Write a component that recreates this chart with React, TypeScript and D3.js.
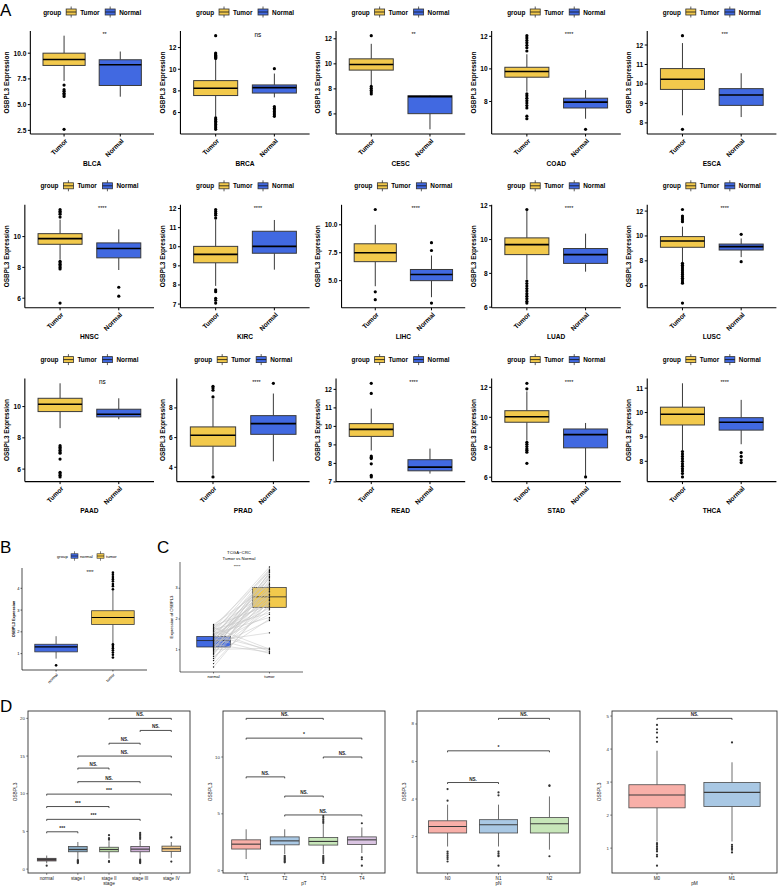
import React, { useEffect } from "react";
import * as d3 from "d3";

const FONT = "'Liberation Sans', Arial, Helvetica, sans-serif";
const YELLOW = "#F2C94C";
const BLUE = "#4169E1";

// ---------------- Panel A data ----------------
const cancers = ["BLCA", "BRCA", "CESC", "COAD", "ESCA", "HNSC", "KIRC", "LIHC", "LUAD", "LUSC", "PAAD", "PRAD", "READ", "STAD", "THCA"];
const groupsA = ["Tumor", "Normal"];
// [lowerWhisker, Q1, median, Q3, upperWhisker]
const tumorBox = [
  [7.3, 8.81, 9.39, 10.0, 11.7],
  [5.6, 7.57, 8.25, 8.95, 10.9],
  [8.3, 9.5, 9.95, 10.4, 11.6],
  [8.6, 9.49, 9.84, 10.1, 10.9],
  [8.39, 9.72, 10.24, 10.79, 12.1],
  [8.5, 9.5, 9.87, 10.19, 11.1],
  [7.95, 9.16, 9.6, 10.02, 11.4],
  [4.5, 6.7, 7.5, 8.3, 10.0],
  [7.65, 9.11, 9.7, 10.1, 11.7],
  [7.9, 9.09, 9.6, 9.95, 10.75],
  [8.62, 9.68, 10.15, 10.53, 11.49],
  [3.5, 5.42, 6.16, 6.72, 8.6],
  [8.7, 9.46, 9.84, 10.15, 10.96],
  [8.44, 9.67, 10.04, 10.44, 11.73],
  [8.46, 9.49, 9.93, 10.22, 11.2],
];
const normalBox = [
  [5.77, 6.86, 8.88, 9.36, 10.16],
  [7.4, 7.8, 8.3, 8.55, 9.6],
  [4.77, 6.02, 7.38, 7.45, 7.5],
  [6.94, 7.6, 7.96, 8.2, 8.7],
  [8.3, 8.9, 9.43, 9.76, 10.55],
  [7.83, 8.62, 9.23, 9.59, 10.47],
  [8.8, 9.66, 10.02, 10.81, 11.4],
  [3.52, 5.0, 5.55, 6.0, 7.25],
  [8.1, 8.59, 9.11, 9.47, 10.35],
  [8.3, 8.87, 9.14, 9.35, 9.8],
  [9.19, 9.34, 9.51, 9.83, 10.53],
  [4.4, 6.22, 6.94, 7.48, 8.97],
  [7.45, 7.6, 7.8, 8.2, 8.8],
  [6.1, 7.96, 8.84, 9.22, 9.62],
  [8.7, 9.28, 9.6, 9.79, 10.52],
];
const tumorOutliers = [
  [6.9, 6.45, 6.3, 6.1, 5.95, 5.8, 2.6],
  [11.0, 11.1, 11.2, 11.3, 11.4, 11.5, 13.1, 5.5, 5.35, 5.2, 5.05, 4.9, 4.75, 4.6, 4.45],
  [12.25, 8.2, 8.05, 7.9, 7.75, 7.6],
  [12.04, 11.9, 11.75, 11.6, 11.45, 11.3, 11.1, 8.47, 8.35, 8.2, 8.05, 7.9, 7.75, 7.6, 7.1, 6.94],
  [12.48, 7.67],
  [11.76, 11.65, 11.55, 11.45, 11.27, 8.4, 8.3, 8.2, 8.1, 8.0, 7.9, 5.68],
  [11.95, 11.85, 11.75, 11.65, 11.5, 7.74, 7.65, 7.3, 7.2, 7.05],
  [11.37, 4.0, 3.3],
  [11.78, 7.55, 7.4, 7.25, 7.1, 6.95, 6.8, 6.65, 6.5, 6.35, 6.24],
  [12.13, 11.6, 11.45, 11.3, 11.15, 7.8, 7.65, 7.5, 7.35, 7.2, 7.05, 6.9, 6.75, 6.6, 6.45, 6.3, 6.2, 4.6],
  [7.5, 7.4, 7.3, 7.2, 7.1, 7.02, 6.64, 5.8, 5.7, 5.6, 5.5],
  [9.46, 9.35, 9.19, 8.74, 3.35],
  [12.33, 11.78, 8.4, 8.33, 8.26, 7.98, 7.35, 7.27],
  [12.27, 11.9, 8.33, 8.2, 8.05, 7.9, 7.8, 7.67, 6.93],
  [8.4, 8.3, 8.2, 8.1, 8.0, 7.9, 7.8, 7.7, 7.6, 7.5, 7.36],
];
const normalOutliers = [
  [],
  [10.05, 6.55, 6.4, 6.25, 6.1, 5.95, 5.8, 5.65],
  [],
  [6.29],
  [],
  [6.71, 6.13],
  [],
  [8.4, 7.7, 2.99],
  [],
  [10.13, 7.93],
  [],
  [9.66],
  [],
  [6.02],
  [8.36, 8.2, 8.05, 7.95],
];
const sigA = ["**", "ns", "**", "****", "***", "****", "****", "****", "****", "****", "ns", "****", "****", "****", "****"];
const yTicksA = [
  ["2.5", "5.0", "7.5", "10.0"],
  ["6", "8", "10", "12"],
  ["6", "8", "10", "12"],
  ["8", "10", "12"],
  ["8", "9", "10", "11", "12"],
  ["6", "8", "10"],
  ["7", "8", "9", "10", "11", "12"],
  ["5.0", "7.5", "10.0"],
  ["6", "8", "10", "12"],
  ["6", "8", "10", "12"],
  ["6", "8", "10"],
  ["4", "6", "8"],
  ["7", "8", "9", "10", "11", "12"],
  ["6", "8", "10", "12"],
  ["8", "9", "10", "11"],
];

// ---------------- Panel B data ----------------
const groupsB = ["normal", "tumor"];
const boxB = [
  [0.77, 1.08, 1.31, 1.43, 1.8],
  [1.46, 2.34, 2.66, 2.97, 3.92],
];
const outliersB = [
  [0.46],
  [4.72, 4.62, 4.52, 4.42, 4.32, 4.2, 4.1, 3.96, 1.43, 1.35, 1.25, 1.15, 1.05, 0.95, 0.82],
];
const yTicksB = ["1", "2", "3", "4"];

// ---------------- Panel C data ----------------
const normalPaired = [1.82, 1.78, 1.75, 1.72, 1.7, 1.68, 1.65, 1.63, 1.6, 1.58, 1.55, 1.52, 1.5, 1.48, 1.46, 1.44, 1.42, 1.4, 1.38, 1.36, 1.34, 1.32, 1.3, 1.29, 1.27, 1.25, 1.23, 1.21, 1.19, 1.17, 1.15, 1.13, 1.11, 1.09, 1.07, 1.05, 1.03, 1.01, 0.98, 0.95, 0.92, 0.88, 0.84, 0.78, 0.72, 0.65, 0.55, 0.44];
const tumorPaired = [3.1, 2.45, 3.55, 1.02, 2.9, 3.69, 2.2, 3.3, 0.95, 2.75, 3.62, 2.05, 3.15, 2.6, 1.0, 3.45, 2.85, 2.35, 3.58, 0.88, 2.95, 3.2, 2.5, 1.55, 3.4, 2.7, 3.05, 2.15, 3.5, 0.92, 2.8, 3.35, 2.4, 1.95, 3.0, 2.65, 3.25, 1.05, 2.55, 3.52, 2.3, 2.9, 3.12, 2.0, 2.78, 3.38, 2.48, 2.62];
// [Q1, median, Q3]
const boxC = [
  [1.09, 1.3, 1.43],
  [2.38, 2.72, 3.02],
];
const yTicksC = ["1", "2", "3"];

// ---------------- Panel D data ----------------
const stageCats = ["normal", "stage I", "stage II", "stage III", "stage IV"];
const stageBox = [
  [0.77, 1.08, 1.3, 1.43, 1.8],
  [1.3, 2.3, 2.6, 3.0, 3.6],
  [1.4, 2.3, 2.6, 2.9, 3.7],
  [1.35, 2.3, 2.65, 3.0, 3.8],
  [1.5, 2.35, 2.7, 3.05, 3.6],
];
const stageOutliers = [
  [0.46],
  [1.2, 1.1, 1.0, 0.9, 0.8],
  [3.9, 4.1, 4.5, 1.05, 0.95],
  [4.0, 4.2, 4.4, 4.6, 4.8, 1.25, 1.1, 1.0, 0.9, 0.8],
  [4.2, 1.0],
];
const stageColors = ["#6A5559", "#86A6BE", "#BCDBA9", "#CDAFD6", "#F2C888"];
const stageBrackets: [number, number, number, string][] = [
  [0, 1, 4.95, "***"], [0, 3, 6.6, "***"], [0, 2, 8.3, "***"], [0, 4, 9.95, "***"],
  [1, 3, 11.6, "NS."], [1, 2, 13.4, "NS."], [1, 4, 15.0, "NS."], [2, 3, 16.7, "NS."],
  [3, 4, 18.4, "NS."], [2, 4, 20.0, "NS."],
];
const stageTicks = ["0", "5", "10", "15", "20"];

const tCats = ["T1", "T2", "T3", "T4"];
const tBox = [
  [1.02, 1.9, 2.33, 2.71, 3.64],
  [1.46, 2.27, 2.62, 2.97, 3.64],
  [1.46, 2.25, 2.57, 2.92, 4.1],
  [1.55, 2.3, 2.71, 2.97, 3.8],
];
const tOutliers = [
  [],
  [1.3, 1.2, 1.1, 1.0, 0.9, 0.8, 0.73],
  [4.2, 4.35, 4.5, 4.65, 4.8, 1.3, 1.2, 1.1, 1.0, 0.9, 0.8, 0.67],
  [4.17, 1.17, 1.0, 0.44],
];
const tColors = ["#F8AFA8", "#A9C8E4", "#C7E6B9", "#DAC4E2"];
const tBrackets: [number, number, number, string][] = [
  [0, 2, 13.4, "NS."], [0, 3, 11.66, "*"], [2, 3, 10.0, "NS."], [0, 1, 8.25, "NS."], [1, 2, 6.56, "NS."], [1, 3, 4.9, "NS."],
];
const tTicks = ["0", "5", "10"];

const nCats = ["N0", "N1", "N2"];
const nBox = [
  [1.47, 2.19, 2.54, 2.84, 3.7],
  [1.47, 2.19, 2.63, 2.9, 3.7],
  [1.3, 2.19, 2.68, 3.02, 4.14],
];
const nOutliers = [
  [3.91, 4.53, 1.2, 1.1, 1.0, 0.9, 0.8, 0.67],
  [4.35, 4.2, 1.2, 1.1, 1.0, 0.95, 0.45],
  [4.73, 4.7, 0.95],
];
const nColors = ["#F8AFA8", "#A9C8E4", "#C7E6B9"];
const nBrackets: [number, number, number, string][] = [
  [1, 2, 8.3, "NS."], [0, 2, 6.57, "*"], [0, 1, 4.88, "NS."],
];
const nTicks = ["2", "4", "6", "8"];

const mCats = ["M0", "M1"];
const mBox = [
  [1.2, 2.22, 2.61, 2.92, 3.95],
  [1.2, 2.26, 2.69, 2.99, 3.6],
];
const mOutliers = [
  [4.73, 4.6, 4.5, 4.35, 4.22, 1.15, 1.1, 1.05, 1.0, 0.95, 0.9, 0.8, 0.75, 0.47],
  [4.2, 1.1, 1.05, 1.0, 0.95, 0.87],
];
const mColors = ["#F8AFA8", "#A9C8E4"];
const mBrackets: [number, number, number, string][] = [[0, 1, 4.93, "NS."]];
const mTicks = ["1", "2", "3", "4", "5"];

// ---------------- helpers ----------------
const textW = (s: string, fs: number) =>
  [...s].reduce((a, c) => a + (c === "." ? 0.278 : 0.556), 0) * fs;

function padDomain(vals: number[]): [number, number] {
  const [mn, mx] = d3.extent(vals) as [number, number];
  const p = (mx - mn) * 0.05;
  return [mn - p, mx + p];
}

function Box({ cx, w, s, y, fill, stroke = "#3a3a3a", sw = 1, med = "#000", medW = 1.6 }: any) {
  const [lo, q1, m, q3, hi] = s;
  return (
    <g>
      <line x1={cx} x2={cx} y1={y(hi)} y2={y(q3)} stroke={stroke} strokeWidth={sw} />
      <line x1={cx} x2={cx} y1={y(q1)} y2={y(lo)} stroke={stroke} strokeWidth={sw} />
      <rect x={cx - w / 2} y={y(q3)} width={w} height={y(q1) - y(q3)} fill={fill} stroke={stroke} strokeWidth={sw} />
      <line x1={cx - w / 2} x2={cx + w / 2} y1={y(m)} y2={y(m)} stroke={med} strokeWidth={medW} />
    </g>
  );
}

function LegendKey({ x, y, w, h, fill, sw = 0.8 }: any) {
  return (
    <g>
      <line x1={x + w / 2} x2={x + w / 2} y1={y - h / 2 - 2.5} y2={y + h / 2 + 2.5} stroke="#333" strokeWidth={sw} />
      <rect x={x} y={y - h / 2} width={w} height={h} fill={fill} stroke="#333" strokeWidth={sw} />
      <line x1={x} x2={x + w} y1={y} y2={y} stroke="#111" strokeWidth={sw} />
    </g>
  );
}

// ---------------- Panel A ----------------
function PanelA({ idx }: { idx: number }) {
  const col = idx % 5;
  const row = Math.floor(idx / 5);
  const left = col * 155.6;
  const top = 31 + row * 173.8;
  const bottom = top + 103;
  const tfs = 6.6;
  const labels = yTicksA[idx];
  const lw = Math.max(...labels.map((l) => textW(l, tfs)));
  const x0 = left + 17.5 + lw;
  const x1 = left + 154;
  const y = d3
    .scaleLinear()
    .domain(padDomain([...tumorBox[idx], ...normalBox[idx], ...tumorOutliers[idx], ...normalOutliers[idx]]))
    .range([bottom, top]);
  const x = d3.scalePoint<string>().domain(groupsA).range([x0, x1]).padding(0.6);
  const step = x.step();
  const bw = step * 0.75;
  const cx = (x0 + x1) / 2;
  const ly = top - 19;
  const ls = cx - 49;
  return (
    <g fontFamily={FONT}>
      {/* legend */}
      <text x={ls} y={ly} fontSize={6.4} fontWeight="bold" dominantBaseline="central">group</text>
      <LegendKey x={ls + 23} y={ly} w={10} h={6} fill={YELLOW} />
      <text x={ls + 37} y={ly} fontSize={6.4} fontWeight="bold" dominantBaseline="central">Tumor</text>
      <LegendKey x={ls + 62} y={ly} w={10} h={6} fill={BLUE} />
      <text x={ls + 76} y={ly} fontSize={6.4} fontWeight="bold" dominantBaseline="central">Normal</text>
      {/* boxes */}
      <Box cx={x("Tumor")} w={bw} s={tumorBox[idx]} y={y} fill={YELLOW} />
      <Box cx={x("Normal")} w={bw} s={normalBox[idx]} y={y} fill={BLUE} />
      {tumorOutliers[idx].map((v, i) => (
        <circle key={"t" + i} cx={x("Tumor")} cy={y(v)} r={1.6} fill="#000" />
      ))}
      {normalOutliers[idx].map((v, i) => (
        <circle key={"n" + i} cx={x("Normal")} cy={y(v)} r={1.6} fill="#000" />
      ))}
      {/* axes */}
      <line x1={x0} x2={x0} y1={top} y2={bottom} stroke="#000" strokeWidth={1.1} />
      <line x1={x0} x2={x1} y1={bottom} y2={bottom} stroke="#000" strokeWidth={1.1} />
      {labels.map((l) => (
        <g key={l}>
          <line x1={x0 - 2.5} x2={x0} y1={y(+l)} y2={y(+l)} stroke="#000" strokeWidth={1} />
          <text x={x0 - 4} y={y(+l)} fontSize={tfs} fontWeight="bold" textAnchor="end" dominantBaseline="central">{l}</text>
        </g>
      ))}
      {groupsA.map((g) => (
        <g key={g}>
          <line x1={x(g)} x2={x(g)} y1={bottom} y2={bottom + 2.5} stroke="#000" strokeWidth={1} />
          <text transform={`translate(${x(g)! + 0.5},${bottom + 4}) rotate(-45)`} fontSize={6.6} fontWeight="bold" textAnchor="end" dy="0.72em">{g}</text>
        </g>
      ))}
      <text x={cx} y={bottom + 31.5} fontSize={6.6} fontWeight="bold" textAnchor="middle">{cancers[idx]}</text>
      <text transform={`translate(${left + 9},${(top + bottom) / 2}) rotate(-90)`} fontSize={6.4} fontWeight="bold" textAnchor="middle">OSBPL3 Expression</text>
      <text x={x("Tumor")! + step * 0.72} y={top + 3} fontSize={sigA[idx] === "ns" ? 6.4 : 5.5} textAnchor="middle" dominantBaseline="central" fill="#000">{sigA[idx]}</text>
    </g>
  );
}

// ---------------- Panel B ----------------
function PanelB() {
  const x0 = 22, x1 = 147, top = 568, bottom = 670;
  const y = d3.scaleLinear().domain(padDomain([...boxB.flat(), ...outliersB.flat()])).range([bottom, top]);
  const x = d3.scalePoint<string>().domain(groupsB).range([x0, x1]).padding(0.6);
  const bw = x.step() * 0.75;
  const colors = [BLUE, YELLOW];
  const ly = 556;
  return (
    <g fontFamily={FONT}>
      <text x={57} y={ly} fontSize={4.2} dominantBaseline="central">group</text>
      <LegendKey x={71} y={ly} w={7} h={4.5} fill={BLUE} sw={0.6} />
      <text x={80} y={ly} fontSize={4.2} dominantBaseline="central">normal</text>
      <LegendKey x={97} y={ly} w={7} h={4.5} fill={YELLOW} sw={0.6} />
      <text x={106} y={ly} fontSize={4.2} dominantBaseline="central">tumor</text>
      {groupsB.map((g, i) => (
        <Box key={g} cx={x(g)} w={bw} s={boxB[i]} y={y} fill={colors[i]} sw={0.8} medW={1.2} />
      ))}
      {groupsB.map((g, i) =>
        outliersB[i].map((v, j) => <circle key={g + j} cx={x(g)} cy={y(v)} r={1.3} fill="#000" />)
      )}
      <line x1={x0} x2={x0} y1={top} y2={bottom} stroke="#000" strokeWidth={0.7} />
      <line x1={x0} x2={x1} y1={bottom} y2={bottom} stroke="#000" strokeWidth={0.7} />
      {yTicksB.map((l) => (
        <g key={l}>
          <line x1={x0 - 1.5} x2={x0} y1={y(+l)} y2={y(+l)} stroke="#000" strokeWidth={0.6} />
          <text x={x0 - 2.5} y={y(+l)} fontSize={4} textAnchor="end" dominantBaseline="central">{l}</text>
        </g>
      ))}
      {groupsB.map((g) => (
        <g key={g}>
          <line x1={x(g)} x2={x(g)} y1={bottom} y2={bottom + 1.5} stroke="#000" strokeWidth={0.6} />
          <text transform={`translate(${x(g)},${bottom + 3}) rotate(-45)`} fontSize={4} textAnchor="end" dy="0.72em">{g}</text>
        </g>
      ))}
      <text transform={`translate(15,${(top + bottom) / 2}) rotate(-90)`} fontSize={3.8} fontWeight="bold" textAnchor="middle">OSBPL3 Expression</text>
      <text x={90} y={572} fontSize={4.5} textAnchor="middle" dominantBaseline="central">****</text>
    </g>
  );
}

// ---------------- Panel C ----------------
function PanelC() {
  const x0 = 180, x1 = 303, top = 562, bottom = 672;
  const y = d3.scaleLinear().domain(padDomain([...normalPaired, ...tumorPaired])).range([bottom, top]);
  const x = d3.scalePoint<string>().domain(groupsB).range([x0, x1]).padding(0.6);
  const bw = x.step() * 0.6;
  const colors = [BLUE, YELLOW];
  const xn = x("normal")!, xt = x("tumor")!;
  return (
    <g fontFamily={FONT}>
      <text x={239} y={552} fontSize={4.3} textAnchor="middle" dominantBaseline="central">TCGA−CRC</text>
      <text x={239} y={558.5} fontSize={4.3} textAnchor="middle" dominantBaseline="central">Tumor vs Normal</text>
      <text x={237} y={566} fontSize={4.3} textAnchor="middle" dominantBaseline="central">****</text>
      {groupsB.map((g, i) => {
        const [q1, m, q3] = boxC[i];
        const cx = x(g)!;
        return (
          <g key={g}>
            <rect x={cx - bw / 2} y={y(q3)} width={bw} height={y(q1) - y(q3)} fill={colors[i]} stroke="#222" strokeWidth={0.7} />
            <line x1={cx - bw / 2} x2={cx + bw / 2} y1={y(m)} y2={y(m)} stroke="#222" strokeWidth={0.8} />
          </g>
        );
      })}
      {normalPaired.map((v, i) => (
        <line key={"l" + i} x1={xn} x2={xt} y1={y(v)} y2={y(tumorPaired[i])} stroke="#c4c4c4" strokeOpacity={0.85} strokeWidth={0.6} />
      ))}
      {normalPaired.map((v, i) => (
        <circle key={"pn" + i} cx={xn} cy={y(v)} r={0.7} fill="#111" />
      ))}
      {tumorPaired.map((v, i) => (
        <circle key={"pt" + i} cx={xt} cy={y(v)} r={0.7} fill="#111" />
      ))}
      <line x1={x0} x2={x0} y1={top} y2={bottom} stroke="#000" strokeWidth={0.6} />
      <line x1={x0} x2={x1} y1={bottom} y2={bottom} stroke="#000" strokeWidth={0.6} />
      {yTicksC.map((l) => (
        <g key={l}>
          <line x1={x0 - 1.5} x2={x0} y1={y(+l)} y2={y(+l)} stroke="#000" strokeWidth={0.5} />
          <text x={x0 - 2.5} y={y(+l)} fontSize={3.8} textAnchor="end" dominantBaseline="central">{l}</text>
        </g>
      ))}
      {groupsB.map((g) => (
        <g key={g}>
          <line x1={x(g)} x2={x(g)} y1={bottom} y2={bottom + 1.5} stroke="#000" strokeWidth={0.5} />
          <text x={x(g)} y={bottom + 4} fontSize={4} textAnchor="middle" dominantBaseline="central">{g}</text>
        </g>
      ))}
      <text transform={`translate(173,${(top + bottom) / 2}) rotate(-90)`} fontSize={4.2} textAnchor="middle">Expression of OSBPL3</text>
    </g>
  );
}

// ---------------- Panel D ----------------
function PanelD({ cats, box, outs, colors, brackets, ticks, title, fx0, fx1, bwFrac }: any) {
  const fy0 = 711, fy1 = 873;
  const y = d3
    .scaleLinear()
    .domain(padDomain([...box.flat(), ...outs.flat(), ...brackets.map((b: any) => b[2])]))
    .range([fy1, fy0]);
  const x = d3.scalePoint<string>().domain(cats).range([fx0, fx1]).padding(0.6);
  const bw = x.step() * bwFrac;
  return (
    <g fontFamily={FONT}>
      {cats.map((c: string, i: number) => (
        <Box key={c} cx={x(c)} w={bw} s={box[i]} y={y} fill={colors[i]} stroke="#4a4a4a" sw={0.8} med="#3a3a3a" medW={1.1} />
      ))}
      {cats.map((c: string, i: number) =>
        outs[i].map((v: number, j: number) => <circle key={c + j} cx={x(c)} cy={y(v)} r={1.1} fill="#333" />)
      )}
      {brackets.map(([a, b, v, lab]: any, i: number) => {
        const xa = x(cats[a])!, xb = x(cats[b])!, yy = y(v);
        return (
          <g key={i}>
            <path d={`M${xa},${yy + 1.5}V${yy}H${xb}V${yy + 1.5}`} fill="none" stroke="#222" strokeWidth={0.8} />
            <text x={(xa + xb) / 2} y={yy - 2} fontSize={lab === "NS." ? 4.6 : 5} fontWeight="bold" textAnchor="middle" fill="#222">{lab}</text>
          </g>
        );
      })}
      <rect x={fx0} y={fy0} width={fx1 - fx0} height={fy1 - fy0} fill="none" stroke="#333" strokeWidth={0.9} />
      {ticks.map((l: string) => (
        <g key={l}>
          <line x1={fx0 - 1.8} x2={fx0} y1={y(+l)} y2={y(+l)} stroke="#333" strokeWidth={0.6} />
          <text x={fx0 - 3} y={y(+l)} fontSize={4.4} textAnchor="end" dominantBaseline="central" fill="#333">{l}</text>
        </g>
      ))}
      {cats.map((c: string) => (
        <g key={c}>
          <line x1={x(c)} x2={x(c)} y1={fy1} y2={fy1 + 1.8} stroke="#333" strokeWidth={0.6} />
          <text x={x(c)} y={fy1 + 5} fontSize={4.6} textAnchor="middle" dominantBaseline="central" fill="#222">{c}</text>
        </g>
      ))}
      <text x={(fx0 + fx1) / 2} y={fy1 + 10.5} fontSize={4.8} textAnchor="middle" dominantBaseline="central" fill="#222">{title}</text>
      <text transform={`translate(${fx0 - 11},${(fy0 + fy1) / 2}) rotate(-90)`} fontSize={4.8} textAnchor="middle" fill="#222">OSBPL3</text>
    </g>
  );
}

export default function App() {
  useEffect(() => {
    document.body.style.margin = "0";
  }, []);
  return (
    <svg width={778} height={887} viewBox="0 0 778 887" style={{ position: "absolute", left: 0, top: 0, background: "#fff", display: "block" }}>
      <rect width={778} height={887} fill="#fff" />
      <g fontFamily={FONT} fontSize={17}>
        <text x={0} y={16}>A</text>
        <text x={0} y={553}>B</text>
        <text x={157} y={553}>C</text>
        <text x={0} y={712}>D</text>
      </g>
      {cancers.map((c, i) => (
        <PanelA key={c} idx={i} />
      ))}
      <PanelB />
      <PanelC />
      <PanelD cats={stageCats} box={stageBox} outs={stageOutliers} colors={stageColors} brackets={stageBrackets} ticks={stageTicks} title="stage" fx0={28} fx1={190} bwFrac={0.6} />
      <PanelD cats={tCats} box={tBox} outs={tOutliers} colors={tColors} brackets={tBrackets} ticks={tTicks} title="pT" fx0={223} fx1={385} bwFrac={0.75} />
      <PanelD cats={nCats} box={nBox} outs={nOutliers} colors={nColors} brackets={nBrackets} ticks={nTicks} title="pN" fx0={417} fx1={580} bwFrac={0.75} />
      <PanelD cats={mCats} box={mBox} outs={mOutliers} colors={mColors} brackets={mBrackets} ticks={mTicks} title="pM" fx0={612} fx1={777} bwFrac={0.75} />
    </svg>
  );
}
